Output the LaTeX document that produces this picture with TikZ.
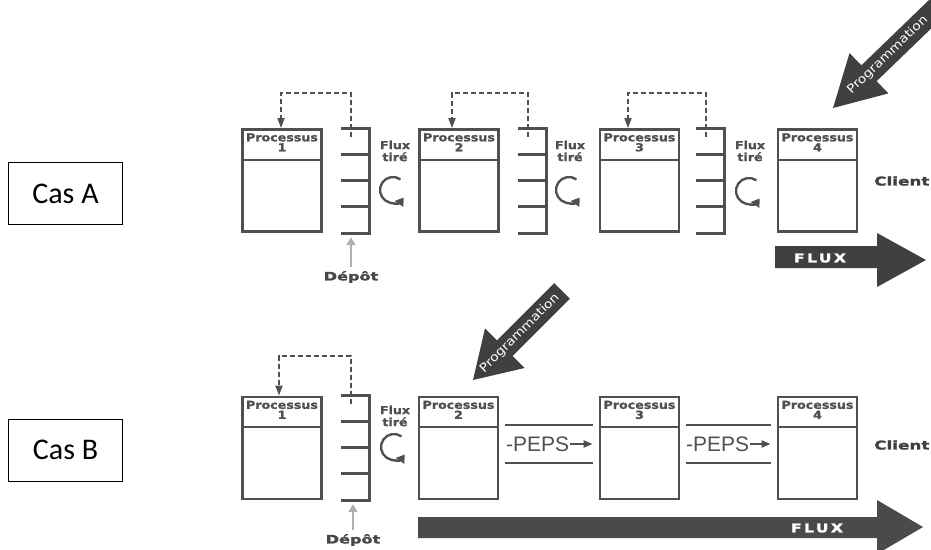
\documentclass[tikz,border=0pt]{standalone}
\usepackage{fontspec}
\setmainfont{Carlito}
\newfontfamily\procfont{DejaVu Sans}[FakeStretch=1.15,FakeBold=1.5]
\newfontfamily\progfont{DejaVu Sans}[FakeStretch=1.15]
\newfontfamily\widefont{DejaVu Sans}[FakeStretch=1.4,FakeBold=2]
\newfontfamily\fluxfont{DejaVu Sans}[FakeStretch=1.3,FakeBold=2,LetterSpace=20]
\newfontfamily\pepsfont{Liberation Sans}
\usetikzlibrary{arrows.meta}

\definecolor{inkgray}{HTML}{505050}
\definecolor{arrowgray}{HTML}{404040}
\definecolor{fluxgray}{HTML}{4A4A4A}
\definecolor{depotgray}{HTML}{B0B0B0}

\tikzset{
	procbox/.style={draw=inkgray, line width=2.8pt, minimum width=79pt, minimum height=102pt, inner sep=0pt},
	proctitle/.style={anchor=north, inner sep=0pt, align=center, text=inkgray, font=\procfont\bfseries\fontsize{11}{10}\selectfont},
	headline/.style={draw=inkgray, line width=2pt},
	rackbox/.style={minimum width=28pt, minimum height=104pt, inner sep=0pt},
	rackline/.style={draw=inkgray, line width=2.8pt},
	pullline/.style={draw=inkgray, line width=1.7pt, dash pattern=on 5pt off 3pt, -{Triangle[length=10pt,width=7pt]}},
	flowtext/.style={inner sep=0pt, align=center, text=inkgray, font=\procfont\bfseries\fontsize{11}{12}\selectfont},
	cyclearrow/.style={draw=inkgray, line width=2.4pt, -{Triangle[length=8pt,width=10pt]}},
	depottext/.style={inner sep=0pt, text=inkgray!90!black, font=\widefont\bfseries\fontsize{11.5}{12}\selectfont},
	depotarrow/.style={draw=depotgray, line width=2.4pt, -{Triangle[length=8pt,width=9pt]}},
	clienttext/.style={anchor=west, inner sep=0pt, text=inkgray!80!black, font=\widefont\bfseries\fontsize{12}{12}\selectfont},
	fluxtext/.style={inner sep=0pt, text=white, font=\fluxfont\bfseries\fontsize{12}{12}\selectfont},
	progtext/.style={inner sep=0pt, text=white, font=\progfont\fontsize{12}{12}\selectfont},
	casbox/.style={draw=black, line width=0.8pt, minimum width=114pt, minimum height=62pt, font=\fontsize{30}{36}\selectfont},
	peptrack/.style={draw=inkgray, line width=2.6pt},
	pepstext/.style={anchor=west, inner sep=0pt, text=inkgray, font=\pepsfont\fontsize{21}{21}\selectfont},
	pepsarrow/.style={draw=inkgray, line width=2pt, shorten <=1pt, -{Triangle[length=9pt,width=7pt]}}
}

\newcommand{\stockrack}[1]{%
	\draw[rackline] (#1.north west) -- (#1.north east) -- (#1.south east) -- (#1.south west);
	\draw[rackline] ([yshift=-26pt]#1.north west) -- ([yshift=-26pt]#1.north east);
	\draw[rackline] ([yshift=-52pt]#1.north west) -- ([yshift=-52pt]#1.north east);
	\draw[rackline] ([yshift=-78pt]#1.north west) -- ([yshift=-78pt]#1.north east);
}
\newcommand{\procheader}[2]{%
	\draw[headline] ([yshift=-#2pt]#1.north west) -- ([yshift=-#2pt]#1.north east);
}

\begin{document}
\begin{tikzpicture}[x=1pt, y=-1pt]
	\useasboundingbox (0,0) rectangle (931,549);
	\clip (0,0) rectangle (931,549);

	\node[casbox] (casa) at (65.5,193.5) {Cas A};
	\node[casbox] (casb) at (65.5,450) {Cas B};

	% Cas A
	\node[procbox] (p1a) at (282,180.5) {};
	\node[procbox] (p2a) at (459,180.5) {};
	\node[procbox] (p3a) at (639.5,180.5) {};
	\node[procbox] (p4a) at (817.5,180.5) {};
	\procheader{p1a}{32}
	\procheader{p2a}{32}
	\procheader{p3a}{32}
	\procheader{p4a}{32}
	\node[proctitle] (t1a) at ([yshift=-5pt]p1a.north) {Processus\\1};
	\node[proctitle] (t2a) at ([yshift=-5pt]p2a.north) {Processus\\2};
	\node[proctitle] (t3a) at ([yshift=-5pt]p3a.north) {Processus\\3};
	\node[proctitle] (t4a) at ([yshift=-5pt]p4a.north) {Processus\\4};

	\node[rackbox] (r1a) at (355,181) {};
	\node[rackbox] (r2a) at (532,181) {};
	\node[rackbox] (r3a) at (710,181) {};
	\stockrack{r1a}
	\stockrack{r2a}
	\stockrack{r3a}

	\draw[pullline] ([xshift=-18pt,yshift=-8pt]r1a.north east) -- ++(0,-44) -| ([xshift=-1pt]p1a.north);
	\draw[pullline] ([xshift=-18pt,yshift=-8pt]r2a.north east) -- ++(0,-44) -| ([xshift=-7pt]p2a.north);
	\draw[pullline] ([xshift=-18pt,yshift=-8pt]r3a.north east) -- ++(0,-44) -| ([xshift=-11.5pt]p3a.north);

	\node[flowtext] (ft1a) at (395,151) {Flux\\tiré};
	\node[flowtext] (ft2a) at (570,151) {Flux\\tiré};
	\node[flowtext] (ft3a) at (750,151) {Flux\\tiré};
	\draw[cyclearrow] (393,190) ++(-55:13) arc[start angle=-55, end angle=-325, radius=13];
	\draw[cyclearrow] (569,190) ++(-55:13) arc[start angle=-55, end angle=-325, radius=13];
	\draw[cyclearrow] (749,191) ++(-55:13) arc[start angle=-55, end angle=-325, radius=13];

	\node[depottext] (dep1a) at (351,277) {Dépôt};
	\draw[depotarrow] (dep1a.north) ++(0,-4) -- ([yshift=-4pt]dep1a.north |- r1a.south);

	\node[clienttext] (clia) at (874,181) {Client};

	\fill[arrowgray] (775,246) -- (877,246) -- (877,233) -- (926,260) -- (877,287) -- (877,268) -- (775,268) -- cycle;
	\node[fluxtext] (fluxa) at (820,258) {FLUX};

	\begin{scope}[shift={(833,108)}, rotate=44]
		\fill[arrowgray] (0,0) -- (50,28) -- (50,11) -- (170,11) -- (170,-11) -- (50,-11) -- (50,-28) -- cycle;
		\node[progtext, transform shape] (proga) at (76,0) {Programmation};
	\end{scope}

	% Cas B
	\node[procbox] (p1b) at (282,448) {};
	\node[procbox] (p2b) at (458.5,448) {};
	\node[procbox] (p3b) at (639.5,448) {};
	\node[procbox] (p4b) at (817.5,448) {};
	\procheader{p1b}{31}
	\procheader{p2b}{31}
	\procheader{p3b}{31}
	\procheader{p4b}{31}
	\node[proctitle] (t1b) at ([yshift=-5pt]p1b.north) {Processus\\1};
	\node[proctitle] (t2b) at ([yshift=-5pt]p2b.north) {Processus\\2};
	\node[proctitle] (t3b) at ([yshift=-5pt]p3b.north) {Processus\\3};
	\node[proctitle] (t4b) at ([yshift=-5pt]p4b.north) {Processus\\4};

	\node[rackbox] (r1b) at (355,448) {};
	\stockrack{r1b}
	\draw[pullline] ([xshift=-18pt,yshift=-8pt]r1b.north east) -- ++(0,-48) -| ([xshift=-3pt]p1b.north);

	\node[flowtext] (ft1b) at (395,416) {Flux\\tiré};
	\draw[cyclearrow] (394,447) ++(-55:13) arc[start angle=-55, end angle=-325, radius=13];

	\node[depottext] (dep1b) at (353,540) {Dépôt};
	\draw[depotarrow] (dep1b.north) ++(0,-4) -- ([yshift=-4pt]dep1b.north |- r1b.south);

	\draw[peptrack] ([xshift=6pt,yshift=23pt]p2b.east) -- ([xshift=-6pt,yshift=23pt]p3b.west);
	\draw[peptrack] ([xshift=6pt,yshift=-15pt]p2b.east) -- ([xshift=-6pt,yshift=-15pt]p3b.west);
	\draw[peptrack] ([xshift=6pt,yshift=23pt]p3b.east) -- ([xshift=-6pt,yshift=23pt]p4b.west);
	\draw[peptrack] ([xshift=6pt,yshift=-15pt]p3b.east) -- ([xshift=-6pt,yshift=-15pt]p4b.west);
	\node[pepstext] (peps1) at (506,444) {-PEPS};
	\node[pepstext] (peps2) at (686,444) {-PEPS};
	\draw[pepsarrow] (peps1.east) -- ([xshift=-6pt]p3b.west |- peps1.east);
	\draw[pepsarrow] (peps2.east) -- ([xshift=-6pt]p4b.west |- peps2.east);

	\node[clienttext] (clib) at (874,445) {Client};

	\fill[fluxgray] (418,517) -- (877,517) -- (877,500) -- (923,527) -- (877,554) -- (877,538) -- (418,538) -- cycle;
	\node[fluxtext] (fluxb) at (817,528) {FLUX};

	\begin{scope}[shift={(473,380)}, rotate=45]
		\fill[arrowgray] (0,0) -- (45,28) -- (45,11) -- (126,11) -- (126,-11) -- (45,-11) -- (45,-28) -- cycle;
		\node[progtext, transform shape] (progb) at (66,0) {Programmation};
	\end{scope}
\end{tikzpicture}
\end{document}
